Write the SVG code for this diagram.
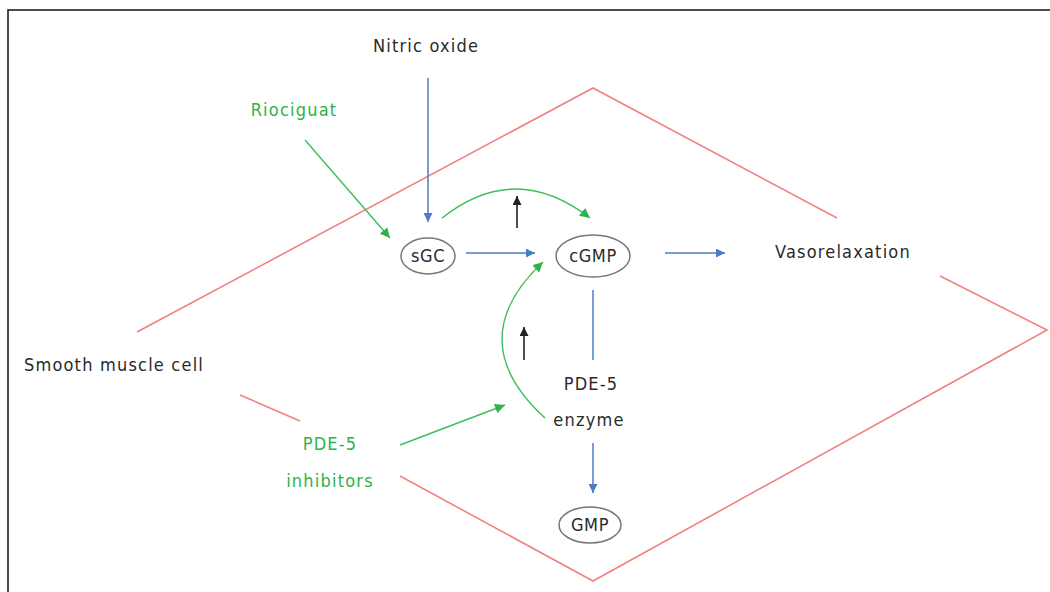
<svg xmlns="http://www.w3.org/2000/svg" width="1050" height="592" viewBox="0 0 1050 592">
<style>
text{font-family:"DejaVu Sans Condensed","DejaVu Sans",sans-serif;font-size:18px;fill:#2a2a2a;letter-spacing:1.2px}
.g{fill:#2db34a}
.cell{stroke:#f28080;stroke-width:1.6;fill:none}
.b{stroke:#4a7cc4;stroke-width:1.5;fill:none}
.gr{stroke:#3cbf5a;stroke-width:1.4;fill:none}
.k{stroke:#222;stroke-width:1.6;fill:none}
ellipse{fill:#fff;stroke:#777;stroke-width:1.5}
.n{letter-spacing:0.6px}
</style>
<defs>
<marker id="ab" viewBox="0 0 10 10" refX="10" refY="5" markerWidth="9" markerHeight="9" markerUnits="userSpaceOnUse" orient="auto"><path d="M0,0L10,5L0,10z" fill="#4a7cc4"/></marker>
<marker id="ag" viewBox="0 0 10 10" refX="10" refY="5" markerWidth="10" markerHeight="10" markerUnits="userSpaceOnUse" orient="auto"><path d="M0,0L10,5L0,10z" fill="#2db34a"/></marker>
<marker id="ak" viewBox="0 0 10 10" refX="10" refY="5" markerWidth="9" markerHeight="9" markerUnits="userSpaceOnUse" orient="auto"><path d="M0,0L10,5L0,10z" fill="#222"/></marker>
</defs>
<rect width="1050" height="592" fill="#fff"/>
<path d="M8,592V10H1050" stroke="#111" stroke-width="1.5" fill="none"/>
<g id="cell-outline">
<path class="cell" d="M137,332L593,88L837,218"/>
<path class="cell" d="M940,276L1047,330L593,581L400,476"/>
<path class="cell" d="M240,395L300,421"/>
</g>
<g id="connectors">
<path class="b" d="M428,78V222" marker-end="url(#ab)"/>
<path class="gr" d="M305,140L390,238" marker-end="url(#ag)"/>
<path class="b" d="M466,253H535" marker-end="url(#ab)"/>
<path class="gr" d="M442,218Q515,160 590,218" marker-end="url(#ag)"/>
<path class="k" d="M517,228V196" marker-end="url(#ak)"/>
<path class="b" d="M665,253H725" marker-end="url(#ab)"/>
<path class="b" d="M593,290V360"/>
<path class="b" d="M593,443V493" marker-end="url(#ab)"/>
<path class="gr" d="M545,418Q460,340 543,262" marker-end="url(#ag)"/>
<path class="k" d="M524,360V327" marker-end="url(#ak)"/>
<path class="gr" d="M400,445L505,405" marker-end="url(#ag)"/>
</g>
<g id="nitric-oxide"><text x="426" y="52" text-anchor="middle">Nitric oxide</text></g>
<g id="riociguat"><text class="g" x="294" y="116" text-anchor="middle">Riociguat</text></g>
<g id="sgc"><ellipse cx="428" cy="256" rx="27" ry="18"/><text class="n" x="428" y="262" text-anchor="middle">sGC</text></g>
<g id="cgmp"><ellipse cx="593" cy="256" rx="37" ry="21"/><text class="n" x="593" y="262" text-anchor="middle">cGMP</text></g>
<g id="vasorelaxation"><text x="843" y="258" text-anchor="middle">Vasorelaxation</text></g>
<g id="smooth-muscle-cell"><text x="114" y="371" text-anchor="middle">Smooth muscle cell</text></g>
<g id="pde5-enzyme"><text x="591" y="390" text-anchor="middle">PDE-5</text><text x="589" y="426" text-anchor="middle">enzyme</text></g>
<g id="pde5-inhibitors"><text class="g" x="330" y="450" text-anchor="middle">PDE-5</text><text class="g" x="330" y="487" text-anchor="middle">inhibitors</text></g>
<g id="gmp"><ellipse cx="590" cy="525" rx="31" ry="18"/><text class="n" x="590" y="531" text-anchor="middle">GMP</text></g>
</svg>
